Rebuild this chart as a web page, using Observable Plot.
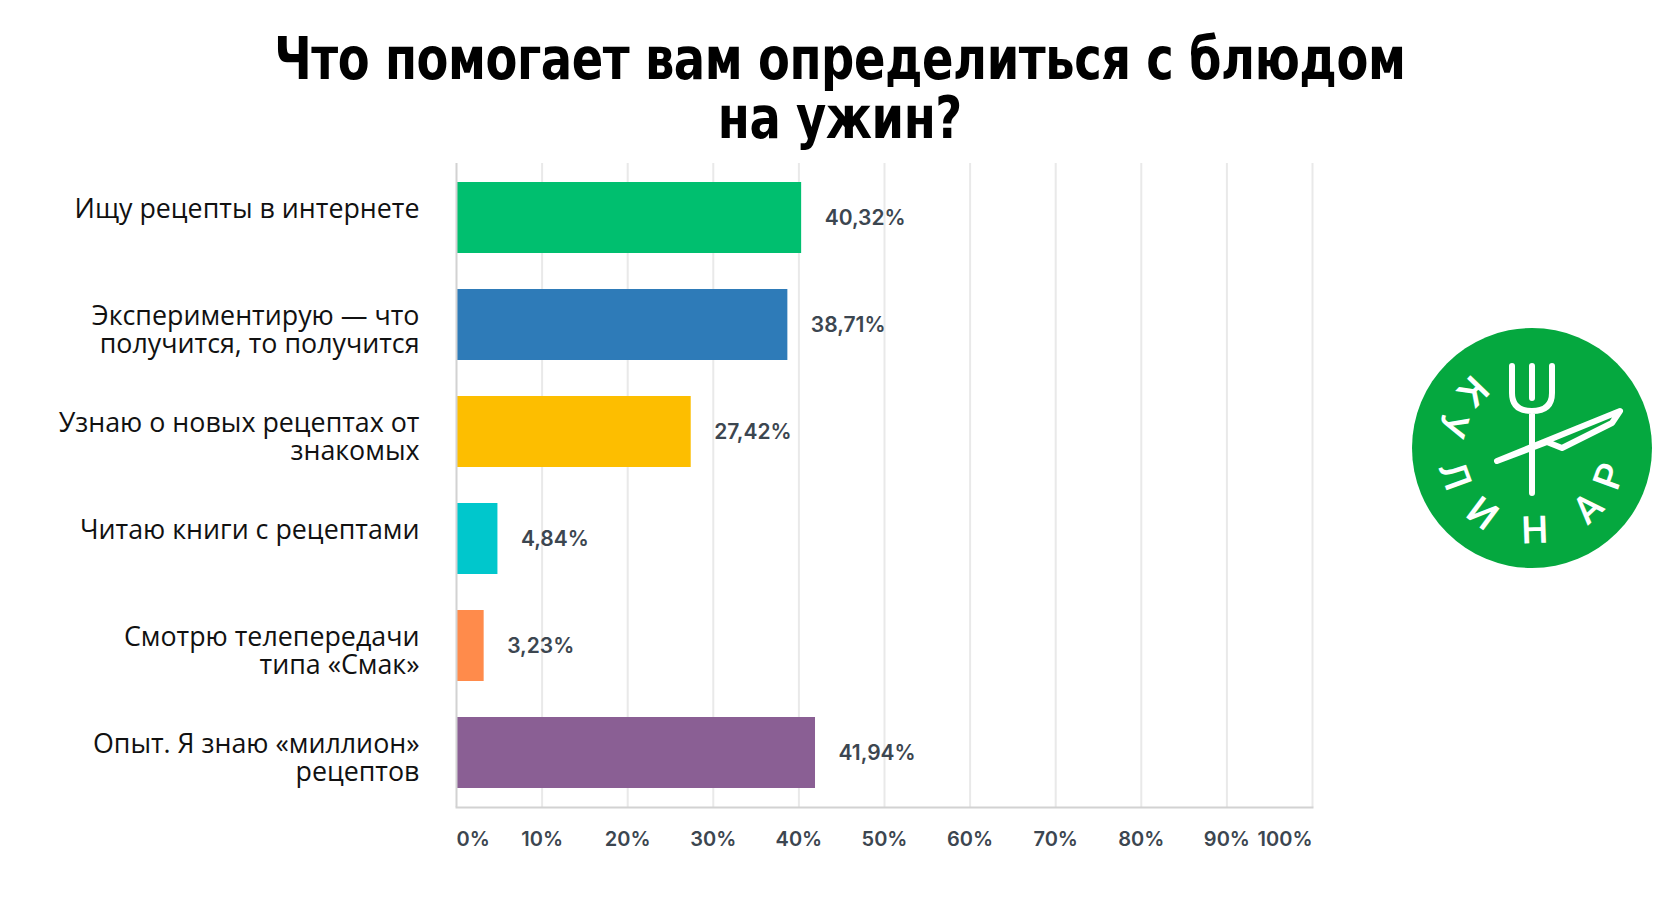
<!DOCTYPE html>
<html>
<head>
<meta charset="utf-8">
<script src="https://cdn.jsdelivr.net/npm/d3@7"></script>
<script src="https://cdn.jsdelivr.net/npm/@observablehq/plot@0.6"></script>
<style>
  body { margin: 0; background: #fff; width: 1680px; height: 900px; overflow: hidden; position: relative; }
  #title { position: absolute; left: 0; top: 30px; width: 1680px; text-align: center;
    font-family: "Liberation Sans Narrow", "DejaVu Sans Condensed", sans-serif; font-stretch: condensed;
    font-weight: 700; font-size: 58px; line-height: 59px; color: #000; margin: 0;
    transform: scaleX(0.89); transform-origin: 838px 0; letter-spacing: -0.5px; }
  #chart { position: absolute; left: 0; top: 150px; }
  #logo { position: absolute; left: 1411px; top: 327px; }
</style>
</head>
<body>
<h1 id="title">Что помогает вам определиться с блюдом<br>на ужин?</h1>
<div id="chart"></div>
<svg id="logo" width="242" height="242" viewBox="-121 -121 242 242"></svg>
<script>
const categories = [
  "Ищу рецепты в интернете",
  "Экспериментирую — что\nполучится, то получится",
  "Узнаю о новых рецептах от\nзнакомых",
  "Читаю книги с рецептами",
  "Смотрю телепередачи\nтипа «Смак»",
  "Опыт. Я знаю «миллион»\nрецептов"
];
const values = [40.32, 38.71, 27.42, 4.84, 3.23, 41.94];
const colors = ["#00bf6f", "#2e7bb8", "#fdbe00", "#00c7cc", "#ff8b4b", "#8a5f94"];
const xTicks = [0, 10, 20, 30, 40, 50, 60, 70, 80, 90, 100];
const tickLabels = ["0%", "10%", "20%", "30%", "40%", "50%", "60%", "70%", "80%", "90%", "100%"];
const logoLetters = ["К", "У", "Л", "И", "Н", "А", "Р"];
const logoAngles = [-136, -164, 160, 127, 88, 47, 20];

const data = categories.map((c, i) => ({label: c, value: values[i]}));
const ticks = xTicks.map((t, i) => ({x: t, text: tickLabels[i]}));
const fmt = v => v.toFixed(2).replace(".", ",") + "%";
const numFont = "Inter, Roboto, sans-serif";

const chart = Plot.plot({
  width: 1680,
  height: 750,
  marginTop: 13,
  marginBottom: 93,
  marginLeft: 456,
  marginRight: 368,
  x: {domain: [0, 100], axis: null},
  y: {domain: categories, paddingInner: 0.335, paddingOuter: 0.16, axis: null},
  color: {domain: categories, range: colors},
  style: {background: "#fff", overflow: "visible"},
  marks: [
    Plot.ruleX(xTicks.filter(d => d > 0), {stroke: "#e9e9e9", strokeWidth: 2}),
    Plot.barX(data, {x: "value", y: "label", fill: "label"}),
    Plot.ruleX([0], {stroke: "#d2d2d2", strokeWidth: 2}),
    Plot.frame({anchor: "bottom", stroke: "#d2d2d2", strokeWidth: 2}),
    Plot.text(data, {
      y: "label", text: "label", frameAnchor: "left", dx: -37, dy: -21,
      textAnchor: "end", lineAnchor: "top", lineHeight: 1.08,
      fontFamily: "'Open Sans', sans-serif", fontSize: 26.8, fill: "#111"
    }),
    Plot.text(data, {
      x: "value", y: "label", text: d => fmt(d.value), dx: 23,
      textAnchor: "start", fontFamily: numFont, fontWeight: 600, fontSize: 21, fill: "#3c4650"
    }),
    Plot.text(ticks.filter(d => d.x > 0 && d.x < 100), {
      x: "x", text: "text", frameAnchor: "bottom", dy: 38,
      fontFamily: numFont, fontWeight: 600, fontSize: 20, fill: "#3c4650"
    }),
    Plot.text(ticks.filter(d => d.x === 0), {
      x: "x", text: "text", frameAnchor: "bottom", dy: 38, textAnchor: "start",
      fontFamily: numFont, fontWeight: 600, fontSize: 20, fill: "#3c4650"
    }),
    Plot.text(ticks.filter(d => d.x === 100), {
      x: "x", text: "text", frameAnchor: "bottom", dy: 38, textAnchor: "end",
      fontFamily: numFont, fontWeight: 600, fontSize: 20, fill: "#3c4650"
    })
  ]
});
document.getElementById("chart").append(chart);

// logo (decoration)
const logo = d3.select("#logo");
logo.append("circle").attr("r", 120).attr("fill", "#05a83f");
const g = logo.append("g").attr("stroke", "#fff").attr("stroke-width", 6)
  .attr("stroke-linecap", "round").attr("stroke-linejoin", "round").attr("fill", "none");
// fork
g.append("path").attr("d", "M-20,-82 V-55 Q-20,-37 0,-37 Q20,-37 20,-55 V-82 M0,-82 V-50 M0,-37 V45");
// knife
g.append("path").attr("d", "M-35,13 L15,-6 L30,0 L80,-25 L88,-37 Z M-35,13 L15,-6");
logoLetters.forEach((ch, i) => {
  const a = logoAngles[i] * Math.PI / 180, r = 82;
  logo.append("text")
    .attr("transform", `translate(${r * Math.cos(a)},${r * Math.sin(a)}) rotate(${logoAngles[i] - 90})`)
    .attr("text-anchor", "middle").attr("dominant-baseline", "central")
    .attr("font-family", "Roboto, sans-serif").attr("font-weight", 500).attr("font-size", 38)
    .attr("fill", "#fff").text(ch);
});
</script>
</body>
</html>
